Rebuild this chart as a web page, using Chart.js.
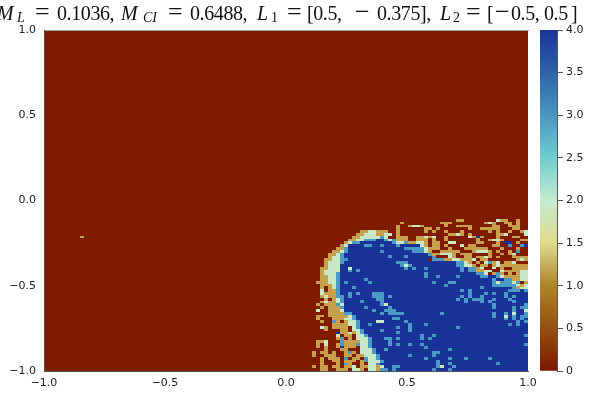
<!DOCTYPE html>
<html>
<head>
<meta charset="utf-8">
<title>heatmap</title>
<script src="https://cdn.jsdelivr.net/npm/chart.js@4/dist/chart.umd.js"></script>
<style>
  html, body { margin: 0; padding: 0; background: #fff; }
  #wrap { position: relative; width: 600px; height: 400px; overflow: hidden; }
  #mainChart { position: absolute; left: 0; top: 0; }
  #barChart { position: absolute; left: 528px; top: 0; }
  #title { position: absolute; left: 0; top: 0; width: 600px; height: 30px; }
  #title span {
    position: absolute; top: 0; white-space: nowrap; letter-spacing: -0.4px;
    font: 20px/26px "Liberation Serif", serif; color: #111;
  }
  #title span.sub { top: 5px; font-size: 14px; letter-spacing: 0; }
  #title span.op { top: -1px; font-size: 26px; letter-spacing: 0; }
  #title span.it { font-style: italic; letter-spacing: 0; }
</style>
</head>
<body>
<div id="wrap">
  <canvas id="mainChart" width="570" height="400"></canvas>
  <canvas id="barChart" width="72" height="400"></canvas>
  <div id="title">
    <span class="it" style="left:-3px">M</span><span class="sub it" style="left:17px">L</span>
    <span class="op" style="left:35px">=</span><span style="left:57px">0.1036,</span>
    <span class="it" style="left:121px">M</span><span class="sub it" style="left:143px">CI</span>
    <span class="op" style="left:168px">=</span><span style="left:190px">0.6488,</span>
    <span class="it" style="left:257px">L</span><span class="sub" style="left:271px">1</span>
    <span class="op" style="left:287px">=</span><span style="left:307px">[0.5,</span>
    <span class="op" style="left:355px">&minus;</span><span style="left:377px">0.375],</span>
    <span class="it" style="left:440px">L</span><span class="sub" style="left:453px">2</span>
    <span class="op" style="left:466px">=</span><span style="left:487px">[</span>
    <span class="op" style="left:495px">&minus;</span><span style="left:511px">0.5,</span>
    <span style="left:544px">0.5</span><span style="left:571px">]</span>
  </div>
</div>
<script>
const gridSize = 121;
const axisTicks = [-1, -0.5, 0, 0.5, 1];
const barTicks = [0, 0.5, 1, 1.5, 2, 2.5, 3, 3.5, 4];

// colours of the cell values 0..4
const levelColors = ["#7f1c00", "#c8a04a", "#c8e8c8", "#4a9ac6", "#1a3399"];
const barStops = [0, 0.125, 0.25, 0.375, 0.5, 0.625, 0.75, 0.875, 1];
const barColors = ["#7e1700", "#95500f", "#ad8428", "#e0da8c", "#c4ead0", "#70cdd0", "#4a96c0", "#2f62a8", "#1a3399"];

// lone cell far from the blob
const strayRow = [73];
const strayCol = [9];
const strayVal = [1];

// rows 67..120 (top to bottom), columns 64..120
const firstRow = 67;
const firstCol = 64;
const cellRows = [
  "0000000000 0000000000 0000000000 0000000001 1000000002 1100100",
  "0000000000 0000000000 0000010000 0000011100 0000001210 0110100",
  "0000000000 0000000000 0000100122 1000001001 1110000011 0011100",
  "0000000000 0000000000 0000100000 0110100000 0010011111 0001100",
  "0000000000 0000011221 1100100000 0101001000 1000000101 0010012",
  "0000000000 0000112221 1220100000 0000000112 1010000001 1200002",
  "0000000000 0001122222 3200111001 1212001000 0021410001 0001100",
  "0000000000 0011223334 4323111001 1101001000 0000100122 1000011",
  "0000000000 0123344444 4443223112 2101100220 0000110001 0440100",
  "0000000000 1244443344 3444344444 2101101000 2011000011 0030034",
  "0000000001 1344444444 4444443333 3211100100 0111111000 1000100",
  "0000000011 2344444444 3444444433 3210011111 0001222101 0010300",
  "0000000112 3444444444 4444444444 4431122210 1110000100 1012000",
  "0000000122 3444444444 4434443444 4443000210 0110112101 0001111",
  "0000001122 3344444444 4444444444 4403331122 1112011000 0000121",
  "0000001222 3444444444 4444333444 4444444443 3210102312 0112000",
  "0000001222 4444444444 4444432344 4444444443 3221011012 1111111",
  "0000011222 4424444444 4444443434 4344444444 3433120020 1001111",
  "0000012222 4434344444 4444444444 4444444444 3433112200 2111122",
  "0000012223 4444444444 4444444444 4344444444 4444332013 1010122",
  "0000011223 4444444444 4444444444 4344344443 4444433443 2111122",
  "0000011223 4444443444 4444444444 4444444444 4444444434 4331122",
  "0000111223 4344444344 4444444444 4443444334 4444444432 3332301",
  "0000011123 4444444444 4444444444 4444443444 4444444433 3333212",
  "0000010123 4443444444 4444444444 4444444444 4444434444 4443122",
  "0000020113 4444444444 4444444444 4444444444 3434444444 4433343",
  "0000021113 4434344433 3444444444 4444444444 4434443434 4344444",
  "0000012113 3434444433 3434444444 4444444444 3434434444 4343444",
  "0000001012 3444444443 3444444444 4444444443 4343334434 4434444",
  "0000012112 3444434444 3444444444 4444444444 4344434344 4443444",
  "0000101113 2444444444 3244444444 4444444444 4444444434 4444443",
  "0000010111 3444443444 4434444444 4444444444 4444444434 4443433",
  "0000200111 2444444434 4333444444 4444444444 4444444444 4443442",
  "0000000111 1334444444 3433334444 4444434444 4444444434 4342443",
  "0000110111 1123444444 4444444444 4444444444 4444444434 4243433",
  "0000100011 1223444444 4443344444 4444444444 4444444444 4343434",
  "0000010031 0122344442 2444443444 4444444444 4444444444 4444343",
  "0000000011 1122344344 4444444344 4344444444 4444444444 4434344",
  "0000021011 1102344444 4444344344 4444444443 4444444444 4444444",
  "0000001000 1102234444 3444444344 4444444444 4444444444 4444444",
  "0000000004 1121234444 4444344444 4444444444 4444444444 4444444",
  "0000000002 0110223444 4444444444 3443444444 4444444444 4444443",
  "0000000001 3010222344 4334344444 3434444444 4444444444 4444444",
  "0000112000 3111122344 4434444444 4444444444 4444444444 4444444",
  "0000102001 3111322344 4434344344 3444444444 4444444444 4444443",
  "0000101001 4111022344 4444444444 4344444444 4444444444 4444444",
  "0000001000 1100022234 4344444444 4444444344 4444444444 4444444",
  "0001011010 0131022234 4444444444 4443344444 4444444444 4444444",
  "0001001110 0110112223 4444444344 4443444444 4444444444 4444444",
  "0000010111 0301103223 4444444444 4344444344 4344444344 4444444",
  "0000010011 0111013222 3444444444 4444344444 4444444444 4444444",
  "0000010001 0310010223 4444444444 4444344344 4444444443 4444444",
  "0001011011 0112011221 2443344444 4444324434 4444444444 4444444",
  "0000011001 1102210221 3343444444 4443444344 4444444444 4444444"
].map(r => r.replace(/ /g, ""));

function cellValue(row, col) {
  const i = strayRow.findIndex((r, k) => r === row && strayCol[k] === col);
  if (i >= 0) return strayVal[i];
  const text = cellRows[row - firstRow];
  if (!text || col < firstCol) return 0;
  return Number(text[col - firstCol]);
}

function cellStamp(color) {
  const c = document.createElement("canvas");
  c.width = 4;
  c.height = 3;
  const g = c.getContext("2d");
  g.fillStyle = color;
  g.fillRect(0, 0, 4, 3);
  return c;
}

function tickText(v) {
  return v.toFixed(1).replace("-", "\u2212");
}

const levelPoints = levelColors.map(() => []);
for (let row = 0; row < gridSize; row++) {
  for (let col = 0; col < gridSize; col++) {
    levelPoints[cellValue(row, col)].push({
      x: -1 + (2 * col + 1) / gridSize,
      y: 1 - (2 * row + 1) / gridSize
    });
  }
}

const sharpCells = {
  id: "sharpCells",
  beforeDatasetsDraw(chart) {
    chart.ctx.imageSmoothingEnabled = false;
  }
};

const axisLine = { display: true, color: "#555", width: 1, z: 1 };
const tickFont = { family: "DejaVu Sans", size: 11 };

new Chart(document.getElementById("mainChart"), {
  type: "scatter",
  data: {
    datasets: levelColors.map((color, i) => ({
      label: "value " + i,
      data: levelPoints[i],
      pointStyle: cellStamp(color),
      pointRadius: 2,
      showLine: false
    }))
  },
  options: {
    responsive: false,
    animation: false,
    parsing: false,
    normalized: true,
    events: [],
    layout: { padding: { top: 30, right: 42 } },
    plugins: { legend: { display: false }, tooltip: { enabled: false } },
    scales: {
      x: {
        type: "linear", min: -1, max: 1,
        afterBuildTicks: s => { s.ticks = axisTicks.map(v => ({ value: v })); },
        afterFit: s => { s.height = 29; },
        grid: { display: false, drawTicks: false },
        border: axisLine,
        ticks: { color: "#222", font: tickFont, padding: 6, maxRotation: 0, autoSkip: false, callback: tickText }
      },
      xTop: {
        type: "linear", position: "top", min: -1, max: 1,
        afterFit: s => { s.height = 0; },
        grid: { display: false, drawTicks: false },
        border: { display: true, color: "#999", width: 1, z: 1 },
        ticks: { display: false }
      },
      y: {
        type: "linear", min: -1, max: 1,
        afterBuildTicks: s => { s.ticks = axisTicks.map(v => ({ value: v })); },
        afterFit: s => { s.width = 44; },
        grid: { display: false, drawTicks: false },
        border: axisLine,
        ticks: { color: "#222", font: tickFont, padding: 8, autoSkip: false, callback: tickText }
      }
    }
  },
  plugins: [sharpCells]
});

new Chart(document.getElementById("barChart"), {
  type: "bar",
  data: {
    labels: ["scale"],
    datasets: [{
      data: [[0, 4]],
      barPercentage: 1,
      categoryPercentage: 1,
      backgroundColor(ctx) {
        const area = ctx.chart.chartArea;
        if (!area) return barColors[0];
        const grad = ctx.chart.ctx.createLinearGradient(0, area.bottom, 0, area.top);
        barStops.forEach((s, i) => grad.addColorStop(s, barColors[i]));
        return grad;
      }
    }]
  },
  options: {
    responsive: false,
    animation: false,
    events: [],
    layout: { padding: { top: 30, left: 12, bottom: 29 } },
    plugins: { legend: { display: false }, tooltip: { enabled: false } },
    scales: {
      x: { display: false },
      y: {
        position: "right", min: 0, max: 4,
        afterBuildTicks: s => { s.ticks = barTicks.map(v => ({ value: v })); },
        afterFit: s => { s.width = 43; },
        grid: { drawOnChartArea: false, drawTicks: true, tickLength: 6, color: "#555" },
        border: { display: true, color: "#555", width: 1 },
        ticks: {
          color: "#222", font: { family: "DejaVu Sans", size: 11 }, padding: 3, autoSkip: false,
          callback: v => (v === 0 ? "0" : v.toFixed(1))
        }
      }
    }
  }
});
</script>
</body>
</html>
